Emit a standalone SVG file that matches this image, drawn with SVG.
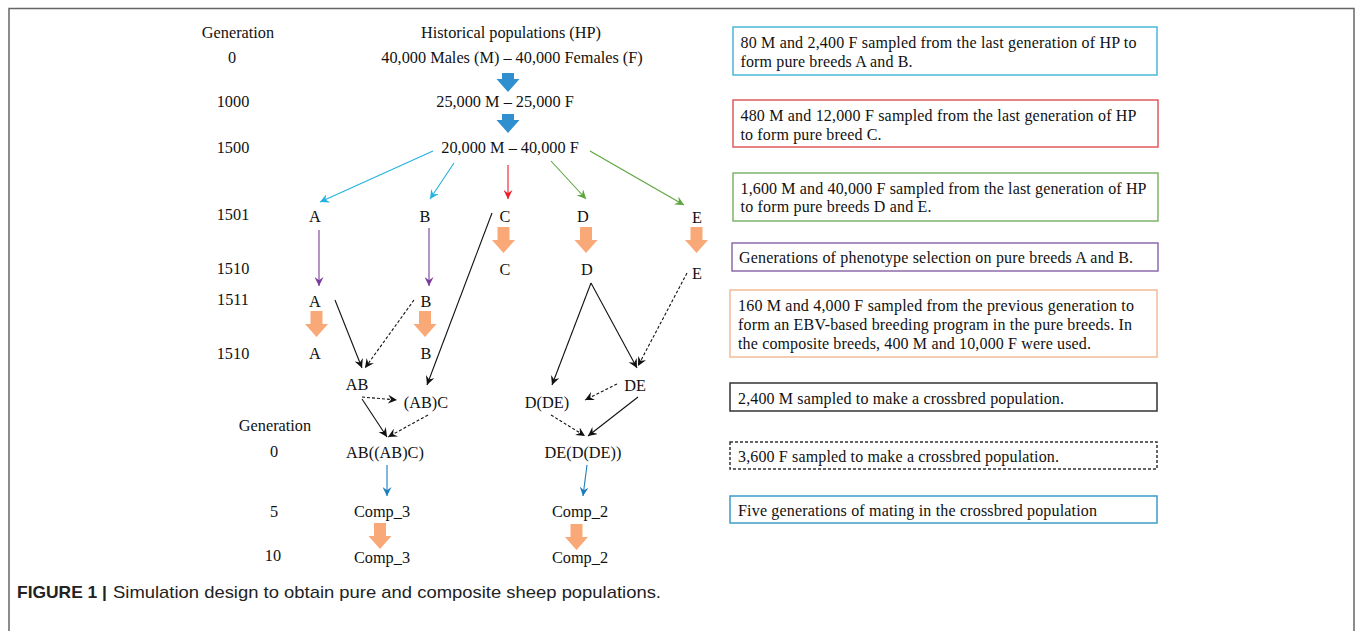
<svg xmlns="http://www.w3.org/2000/svg" xmlns:xlink="http://www.w3.org/1999/xlink" width="1355" height="631" viewBox="0 0 1355 631">
<style>
text{font-family:"Liberation Serif","Times New Roman",serif;font-size:16.3px;fill:#111}
.m{text-anchor:middle}
.bt{font-size:16px}
.box{fill:#fff;stroke-width:1.5}
.ln{fill:none;stroke-width:1.1}
.cap{font-family:"Liberation Sans",Arial,sans-serif;font-size:17px;fill:#222}
</style>
<defs>
<marker id="mk-k" viewBox="0 0 10 10" refX="10" refY="5" markerWidth="9" markerHeight="9" markerUnits="userSpaceOnUse" orient="auto"><path d="M0,0 L10,5 L0,10 L3.5,5 z" fill="#111"/></marker>
<marker id="mk-c" viewBox="0 0 10 10" refX="10" refY="5" markerWidth="9" markerHeight="9" markerUnits="userSpaceOnUse" orient="auto"><path d="M0,0 L10,5 L0,10 L3.5,5 z" fill="#22B2E0"/></marker>
<marker id="mk-r" viewBox="0 0 10 10" refX="10" refY="5" markerWidth="9" markerHeight="9" markerUnits="userSpaceOnUse" orient="auto"><path d="M0,0 L10,5 L0,10 L3.5,5 z" fill="#EE1C25"/></marker>
<marker id="mk-g" viewBox="0 0 10 10" refX="10" refY="5" markerWidth="9" markerHeight="9" markerUnits="userSpaceOnUse" orient="auto"><path d="M0,0 L10,5 L0,10 L3.5,5 z" fill="#5BA53A"/></marker>
<marker id="mk-p" viewBox="0 0 10 10" refX="10" refY="5" markerWidth="9" markerHeight="9" markerUnits="userSpaceOnUse" orient="auto"><path d="M0,0 L10,5 L0,10 L3.5,5 z" fill="#7A3B9A"/></marker>
<marker id="mk-b" viewBox="0 0 10 10" refX="10" refY="5" markerWidth="9" markerHeight="9" markerUnits="userSpaceOnUse" orient="auto"><path d="M0,0 L10,5 L0,10 L3.5,5 z" fill="#1A7DC0"/></marker>
<path id="arO" d="M-6,0 H6 V13 H11.5 L0,26 L-11.5,13 H-6 Z" fill="#F9A878"/>
<path id="arB" d="M-6,0 H6 V6 H11.5 L0,19 L-11.5,6 H-6 Z" fill="#2F8FCF"/>
</defs>
<rect width="1355" height="631" fill="#fff"/>
<path d="M9,631 V8.5 H1354 V631" fill="none" stroke="#666" stroke-width="1.5"/>

<g id="generations">
<text class="m" x="238" y="38">Generation</text>
<text class="m" x="232" y="63">0</text>
<text class="m" x="233" y="107">1000</text>
<text class="m" x="233" y="153">1500</text>
<text class="m" x="233" y="220">1501</text>
<text class="m" x="233" y="274">1510</text>
<text class="m" x="233" y="305">1511</text>
<text class="m" x="233" y="359">1510</text>
<text class="m" x="275" y="431">Generation</text>
<text class="m" x="274" y="457">0</text>
<text class="m" x="274" y="517">5</text>
<text class="m" x="273" y="561">10</text>
</g>

<g id="node-hp-title"><text class="m" x="511" y="38">Historical populations (HP)</text></g>
<g id="node-hp0"><text class="m" x="512" y="63">40,000 Males (M) – 40,000 Females (F)</text></g>
<g id="node-hp1000"><text class="m" x="505" y="107">25,000 M – 25,000 F</text></g>
<g id="node-hp1500"><text class="m" x="510" y="153">20,000 M – 40,000 F</text></g>

<g id="node-A1501"><text class="m" x="315" y="222">A</text></g>
<g id="node-B1501"><text class="m" x="425" y="222">B</text></g>
<g id="node-C1501"><text class="m" x="505" y="222">C</text></g>
<g id="node-D1501"><text class="m" x="583" y="222">D</text></g>
<g id="node-E1501"><text class="m" x="697" y="223">E</text></g>
<g id="node-C1510"><text class="m" x="505" y="275">C</text></g>
<g id="node-D1510"><text class="m" x="587" y="275">D</text></g>
<g id="node-E1510"><text class="m" x="697" y="279">E</text></g>
<g id="node-A1511"><text class="m" x="315" y="307">A</text></g>
<g id="node-B1511"><text class="m" x="426" y="307">B</text></g>
<g id="node-A1510b"><text class="m" x="315" y="359">A</text></g>
<g id="node-B1510b"><text class="m" x="426" y="359">B</text></g>
<g id="node-AB"><text class="m" x="357" y="390">AB</text></g>
<g id="node-ABC"><text class="m" x="426" y="408">(AB)C</text></g>
<g id="node-DDE"><text class="m" x="547" y="408">D(DE)</text></g>
<g id="node-DE"><text class="m" x="635" y="391">DE</text></g>
<g id="node-ABABC"><text class="m" x="385" y="458">AB((AB)C)</text></g>
<g id="node-DEDDE"><text class="m" x="583" y="458">DE(D(DE))</text></g>
<g id="node-comp3-5"><text class="m" x="382" y="517">Comp_3</text></g>
<g id="node-comp2-5"><text class="m" x="580" y="517">Comp_2</text></g>
<g id="node-comp3-10"><text class="m" x="382" y="563">Comp_3</text></g>
<g id="node-comp2-10"><text class="m" x="580" y="563">Comp_2</text></g>

<g id="connectors">
<use href="#arB" x="508" y="73"/>
<use href="#arB" x="508" y="114"/>
<use href="#arO" x="503.5" y="227"/>
<use href="#arO" x="586" y="227"/>
<use href="#arO" x="696.5" y="227"/>
<use href="#arO" x="316.5" y="311"/>
<use href="#arO" x="425" y="311"/>
<use href="#arO" x="380" y="523"/>
<use href="#arO" x="576.5" y="524"/>
<g class="ln" stroke="#22B2E0" marker-end="url(#mk-c)">
<line x1="433" y1="151" x2="320" y2="202"/>
<line x1="454" y1="163" x2="430" y2="199"/>
</g>
<line class="ln" stroke="#EE1C25" marker-end="url(#mk-r)" x1="508" y1="165" x2="508" y2="199"/>
<g class="ln" stroke="#5BA53A" marker-end="url(#mk-g)">
<line x1="551" y1="161" x2="586" y2="199"/>
<line x1="590" y1="151" x2="684" y2="205"/>
</g>
<g class="ln" stroke="#7A3B9A" marker-end="url(#mk-p)">
<line x1="319" y1="230" x2="319" y2="286"/>
<line x1="429" y1="228" x2="429" y2="286"/>
</g>
<g class="ln" stroke="#111" marker-end="url(#mk-k)">
<line x1="492" y1="213" x2="427" y2="385"/>
<line x1="591" y1="283" x2="552" y2="385"/>
<line x1="591" y1="283" x2="637" y2="368"/>
<line x1="335" y1="300" x2="362" y2="368"/>
<line x1="362" y1="399" x2="387" y2="437"/>
<line x1="638" y1="397" x2="588" y2="436"/>
</g>
<g class="ln" stroke="#111" stroke-dasharray="3,2" marker-end="url(#mk-k)">
<line x1="687" y1="273" x2="638" y2="366"/>
<line x1="414" y1="300" x2="365" y2="368"/>
<line x1="362" y1="397" x2="397" y2="400"/>
<line x1="428" y1="415" x2="388" y2="437"/>
<line x1="617" y1="384" x2="585" y2="400"/>
<line x1="551" y1="415" x2="585" y2="436"/>
</g>
<g class="ln" stroke="#1A7DC0" marker-end="url(#mk-b)">
<line x1="387" y1="465" x2="387" y2="496"/>
<line x1="587" y1="465" x2="583" y2="496"/>
</g>
</g>

<g id="legend-cyan">
<rect class="box" x="733" y="27" width="424" height="48" stroke="#4BB8D8"/>
<text class="bt" x="740.5" y="48" textLength="396" lengthAdjust="spacing">80 M and 2,400 F sampled from the last generation of HP to</text>
<text class="bt" x="740.5" y="67" textLength="172" lengthAdjust="spacing">form pure breeds A and B.</text>
</g>
<g id="legend-red">
<rect class="box" x="733" y="100" width="425" height="47" stroke="#E05A5E"/>
<text class="bt" x="740.5" y="120.5" textLength="396" lengthAdjust="spacing">480 M and 12,000 F sampled from the last generation of HP</text>
<text class="bt" x="740.5" y="139.5" textLength="141" lengthAdjust="spacing">to form pure breed C.</text>
</g>
<g id="legend-green">
<rect class="box" x="733" y="173" width="425" height="48" stroke="#7DB56A"/>
<text class="bt" x="740.5" y="193.5" textLength="406" lengthAdjust="spacing">1,600 M and 40,000 F sampled from the last generation of HP</text>
<text class="bt" x="740.5" y="212" textLength="191" lengthAdjust="spacing">to form pure breeds D and E.</text>
</g>
<g id="legend-purple">
<rect class="box" x="732" y="243" width="426" height="28" stroke="#8D6BAA"/>
<text class="bt" x="739" y="262.5" textLength="394" lengthAdjust="spacing">Generations of phenotype selection on pure breeds A and B.</text>
</g>
<g id="legend-orange">
<rect class="box" x="730" y="290" width="427" height="67" stroke="#F2BC98"/>
<text class="bt" x="738" y="310.5" textLength="396" lengthAdjust="spacing">160 M and 4,000 F sampled from the previous generation to</text>
<text class="bt" x="738" y="329.5" textLength="394" lengthAdjust="spacing">form an EBV-based breeding program in the pure breeds. In</text>
<text class="bt" x="738" y="349" textLength="353" lengthAdjust="spacing">the composite breeds, 400 M and 10,000 F were used.</text>
</g>
<g id="legend-black">
<rect class="box" x="730" y="383" width="427" height="28" stroke="#333"/>
<text class="bt" x="738" y="403.5" textLength="326" lengthAdjust="spacing">2,400 M sampled to make a crossbred population.</text>
</g>
<g id="legend-dashed">
<rect class="box" x="730" y="442" width="427" height="27" stroke="#333" stroke-width="1" stroke-dasharray="3,2"/>
<text class="bt" x="738" y="461.5" textLength="321" lengthAdjust="spacing">3,600 F sampled to make a crossbred population.</text>
</g>
<g id="legend-blue">
<rect class="box" x="730" y="496" width="427" height="27" stroke="#3C9CC8"/>
<text class="bt" x="738" y="516" textLength="359" lengthAdjust="spacing">Five generations of mating in the crossbred population</text>
</g>

<g id="caption">
<text class="cap" x="17" y="598" font-weight="bold" textLength="90" lengthAdjust="spacingAndGlyphs">FIGURE 1 |</text>
<text class="cap" x="113" y="598" textLength="548" lengthAdjust="spacingAndGlyphs">Simulation design to obtain pure and composite sheep populations.</text>
</g>
</svg>
